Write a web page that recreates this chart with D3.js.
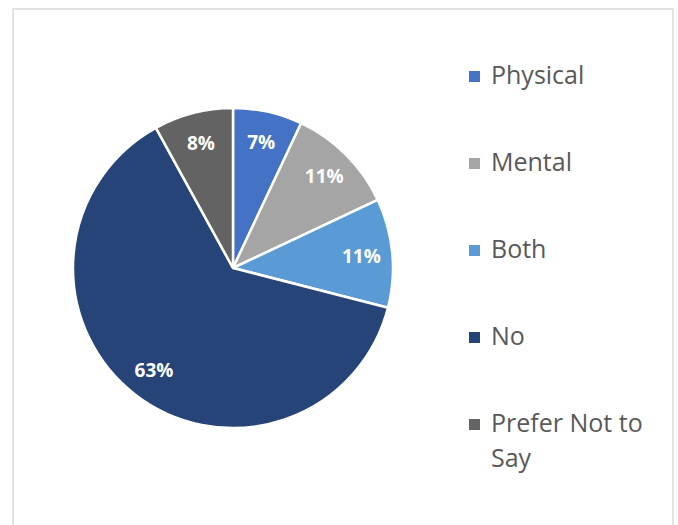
<!DOCTYPE html>
<html>
<head>
<meta charset="utf-8">
<script src="https://cdn.jsdelivr.net/npm/d3@7"></script>
<style>
	body { margin: 0; background: #fff; }
	svg { display: block; }
	.slice-label { font-family: "Open Sans", sans-serif; font-weight: bold; font-size: 19px; fill: #fff; }
	.legend-text { font-family: "Open Sans", sans-serif; font-size: 25px; fill: #595959; }
</style>
</head>
<body>
<svg id="chart" width="678" height="525"></svg>
<script>
const categories = ["Physical", "Mental", "Both", "No", "Prefer Not to Say"];
const values = [7, 11, 11, 63, 8];
const colors = ["#4472C4", "#A5A5A5", "#5B9BD5", "#264478", "#636363"];
// legend lines (last entry wraps)
const legendLines = [["Physical"], ["Mental"], ["Both"], ["No"], ["Prefer Not to", "Say"]];

const width = 678;
const height = 525;
const center = { x: 233, y: 268 };
const radius = 160;
const labelRadius = 129;

const legend = {
	x: 469,
	textX: 491,
	firstBaseline: 84,
	rowGap: 87,
	lineGap: 35,
	box: 11
};

const svg = d3.select("#chart");

// chart frame
svg.append("rect")
	.attr("x", 13)
	.attr("y", 9)
	.attr("width", 660)
	.attr("height", 530)
	.attr("fill", "#fff")
	.attr("stroke", "#D9D9D9")
	.attr("stroke-width", 1.5);

const color = d3.scaleOrdinal()
	.domain(categories)
	.range(colors);

const pie = d3.pie()
	.sort(null)
	.value((d) => d.value);

const data = categories.map((c, i) => ({ name: c, value: values[i] }));
const arcs = pie(data);

const arc = d3.arc()
	.innerRadius(0)
	.outerRadius(radius);

const labelArc = d3.arc()
	.innerRadius(labelRadius)
	.outerRadius(labelRadius);

const pieGroup = svg.append("g")
	.attr("transform", `translate(${center.x},${center.y})`);

pieGroup.selectAll("path")
	.data(arcs)
	.join("path")
	.attr("d", arc)
	.attr("fill", (d) => color(d.data.name))
	.attr("stroke", "#fff")
	.attr("stroke-width", 2.5)
	.attr("stroke-linejoin", "round");

pieGroup.selectAll("text")
	.data(arcs)
	.join("text")
	.attr("class", "slice-label")
	.attr("transform", (d) => `translate(${labelArc.centroid(d)})`)
	.attr("text-anchor", "middle")
	.attr("dy", "0.35em")
	.text((d) => `${d.data.value}%`);

// legend
const legendGroup = svg.append("g");

const rows = legendGroup.selectAll("g")
	.data(categories)
	.join("g")
	.attr("transform", (d, i) => `translate(0,${legend.firstBaseline + i * legend.rowGap})`);

rows.append("rect")
	.attr("x", legend.x)
	.attr("y", -13)
	.attr("width", legend.box)
	.attr("height", legend.box)
	.attr("fill", (d) => color(d));

const rowText = rows.append("text")
	.attr("class", "legend-text")
	.attr("x", legend.textX);

rowText.selectAll("tspan")
	.data((d, i) => legendLines[i])
	.join("tspan")
	.attr("x", legend.textX)
	.attr("dy", (d, j) => (j === 0 ? 0 : legend.lineGap))
	.text((d) => d);
</script>
</body>
</html>
